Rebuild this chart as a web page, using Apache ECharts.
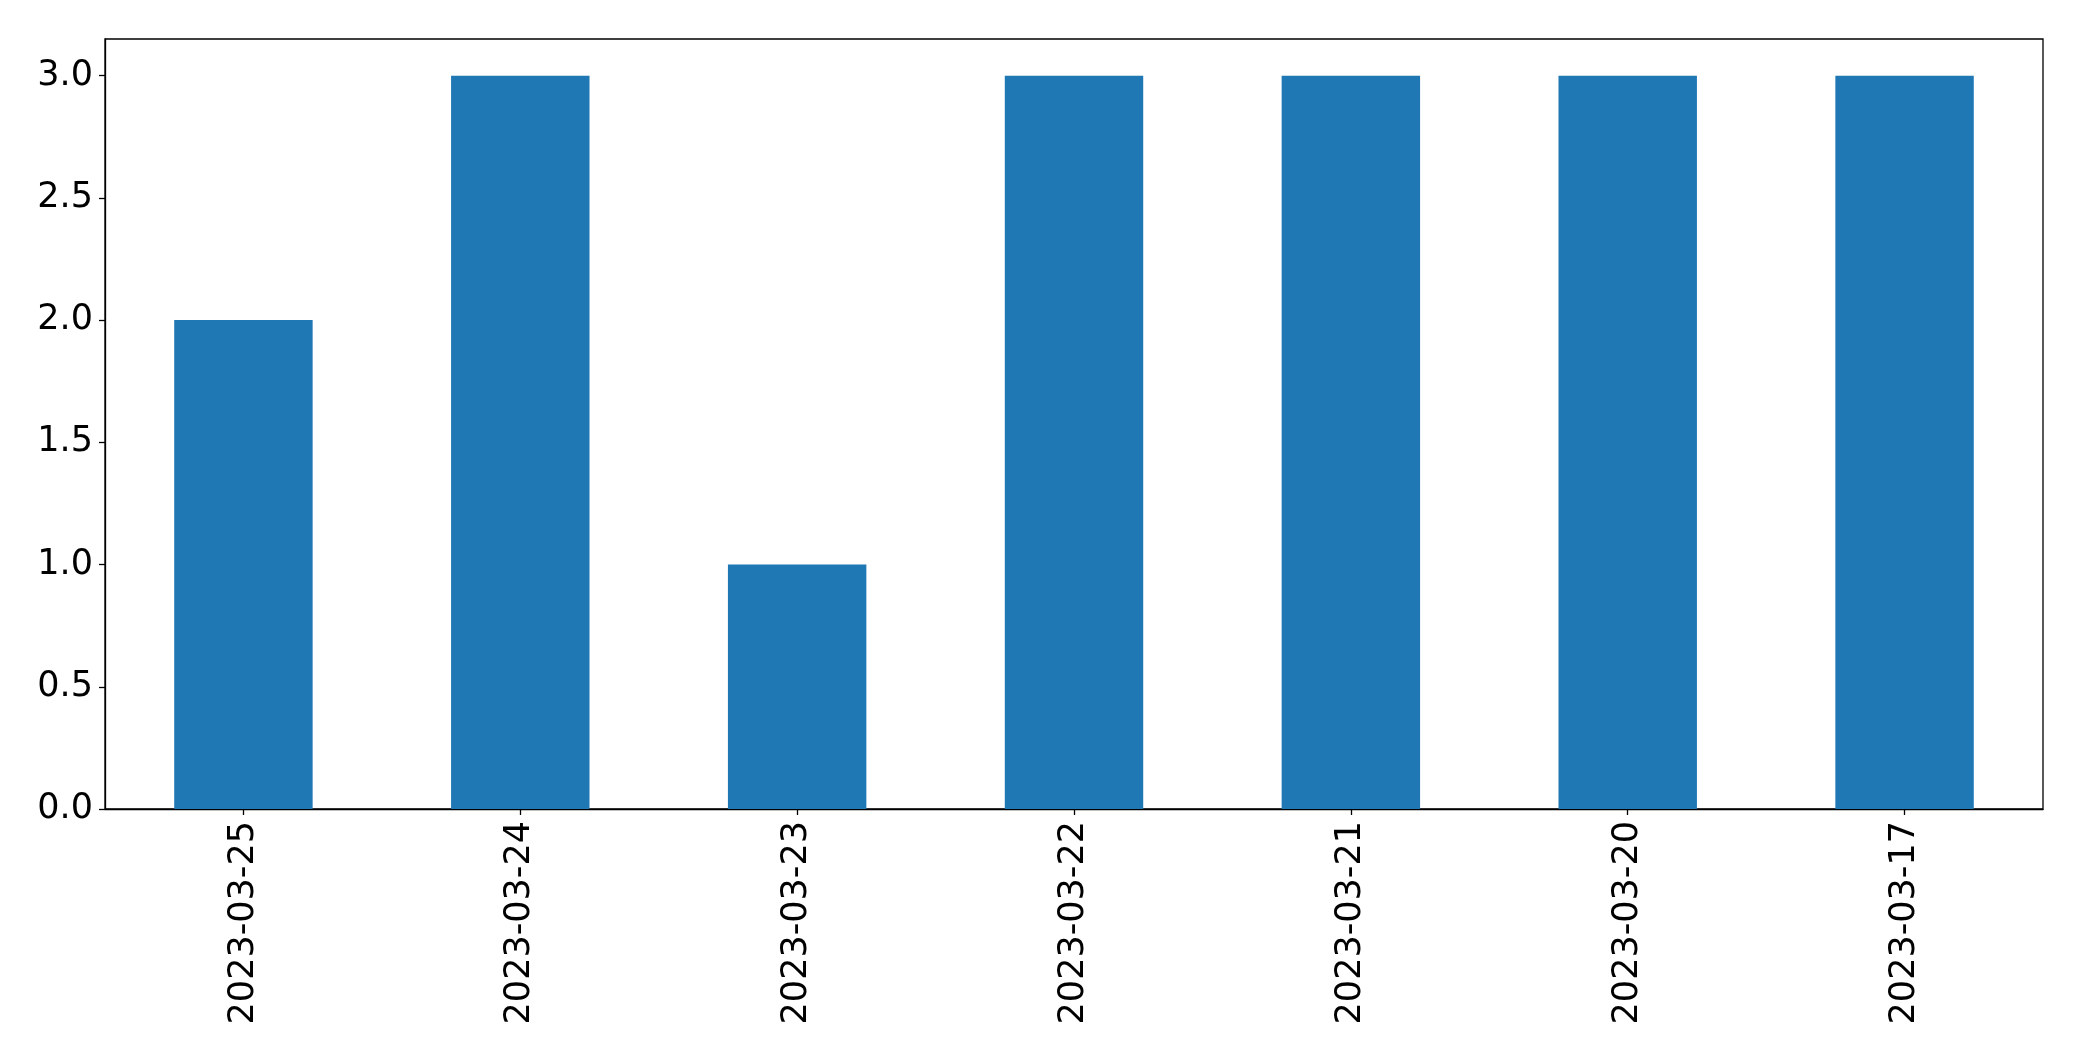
<!DOCTYPE html>
<html>
<head>
<meta charset="utf-8">
<script src="https://cdn.jsdelivr.net/npm/echarts@6/dist/echarts.min.js"></script>
<style>
html,body{margin:0;padding:0;background:#fff;}
#chart{width:2082px;height:1061px;}
</style>
</head>
<body>
<div id="chart"></div>
<script>
const categories = ["2023-03-25","2023-03-24","2023-03-23","2023-03-22","2023-03-21","2023-03-20","2023-03-17"];
const values = [2, 3, 1, 3, 3, 3, 3];
const yTicks = [0, 0.5, 1, 1.5, 2, 2.5, 3];

const chart = echarts.init(document.getElementById('chart'), null, {renderer: 'canvas'});
const font = 'DejaVu Sans';
chart.setOption({
  animation: false,
  backgroundColor: '#ffffff',
  grid: {
    left: 105, top: 39, width: 1938, height: 770,
    show: true, borderColor: '#000', borderWidth: 1.3, backgroundColor: 'transparent',
    containLabel: false
  },
  xAxis: {
    type: 'category',
    data: categories,
    axisLine: {show: true, lineStyle: {color: '#000', width: 1.3}},
    axisTick: {show: true, alignWithLabel: true, length: 6, lineStyle: {color: '#000', width: 1.3}},
    axisLabel: {rotate: 90, fontSize: 35, fontFamily: font, color: '#000', margin: 12, interval: 0},
    splitLine: {show: false}
  },
  yAxis: {
    type: 'value',
    min: 0, max: 3.15,
    axisLine: {show: true, lineStyle: {color: '#000', width: 1.3}},
    axisTick: {show: true, length: 6, customValues: yTicks, lineStyle: {color: '#000', width: 1.3}},
    axisLabel: {fontSize: 35, fontFamily: font, color: '#000', margin: 12, customValues: yTicks,
      formatter: function (v) { return Number(v).toFixed(1); }},
    splitLine: {show: false}
  },
  series: [{
    type: 'bar',
    data: values,
    barWidth: '50%',
    itemStyle: {color: '#1f77b4'}
  }]
});
</script>
</body>
</html>
